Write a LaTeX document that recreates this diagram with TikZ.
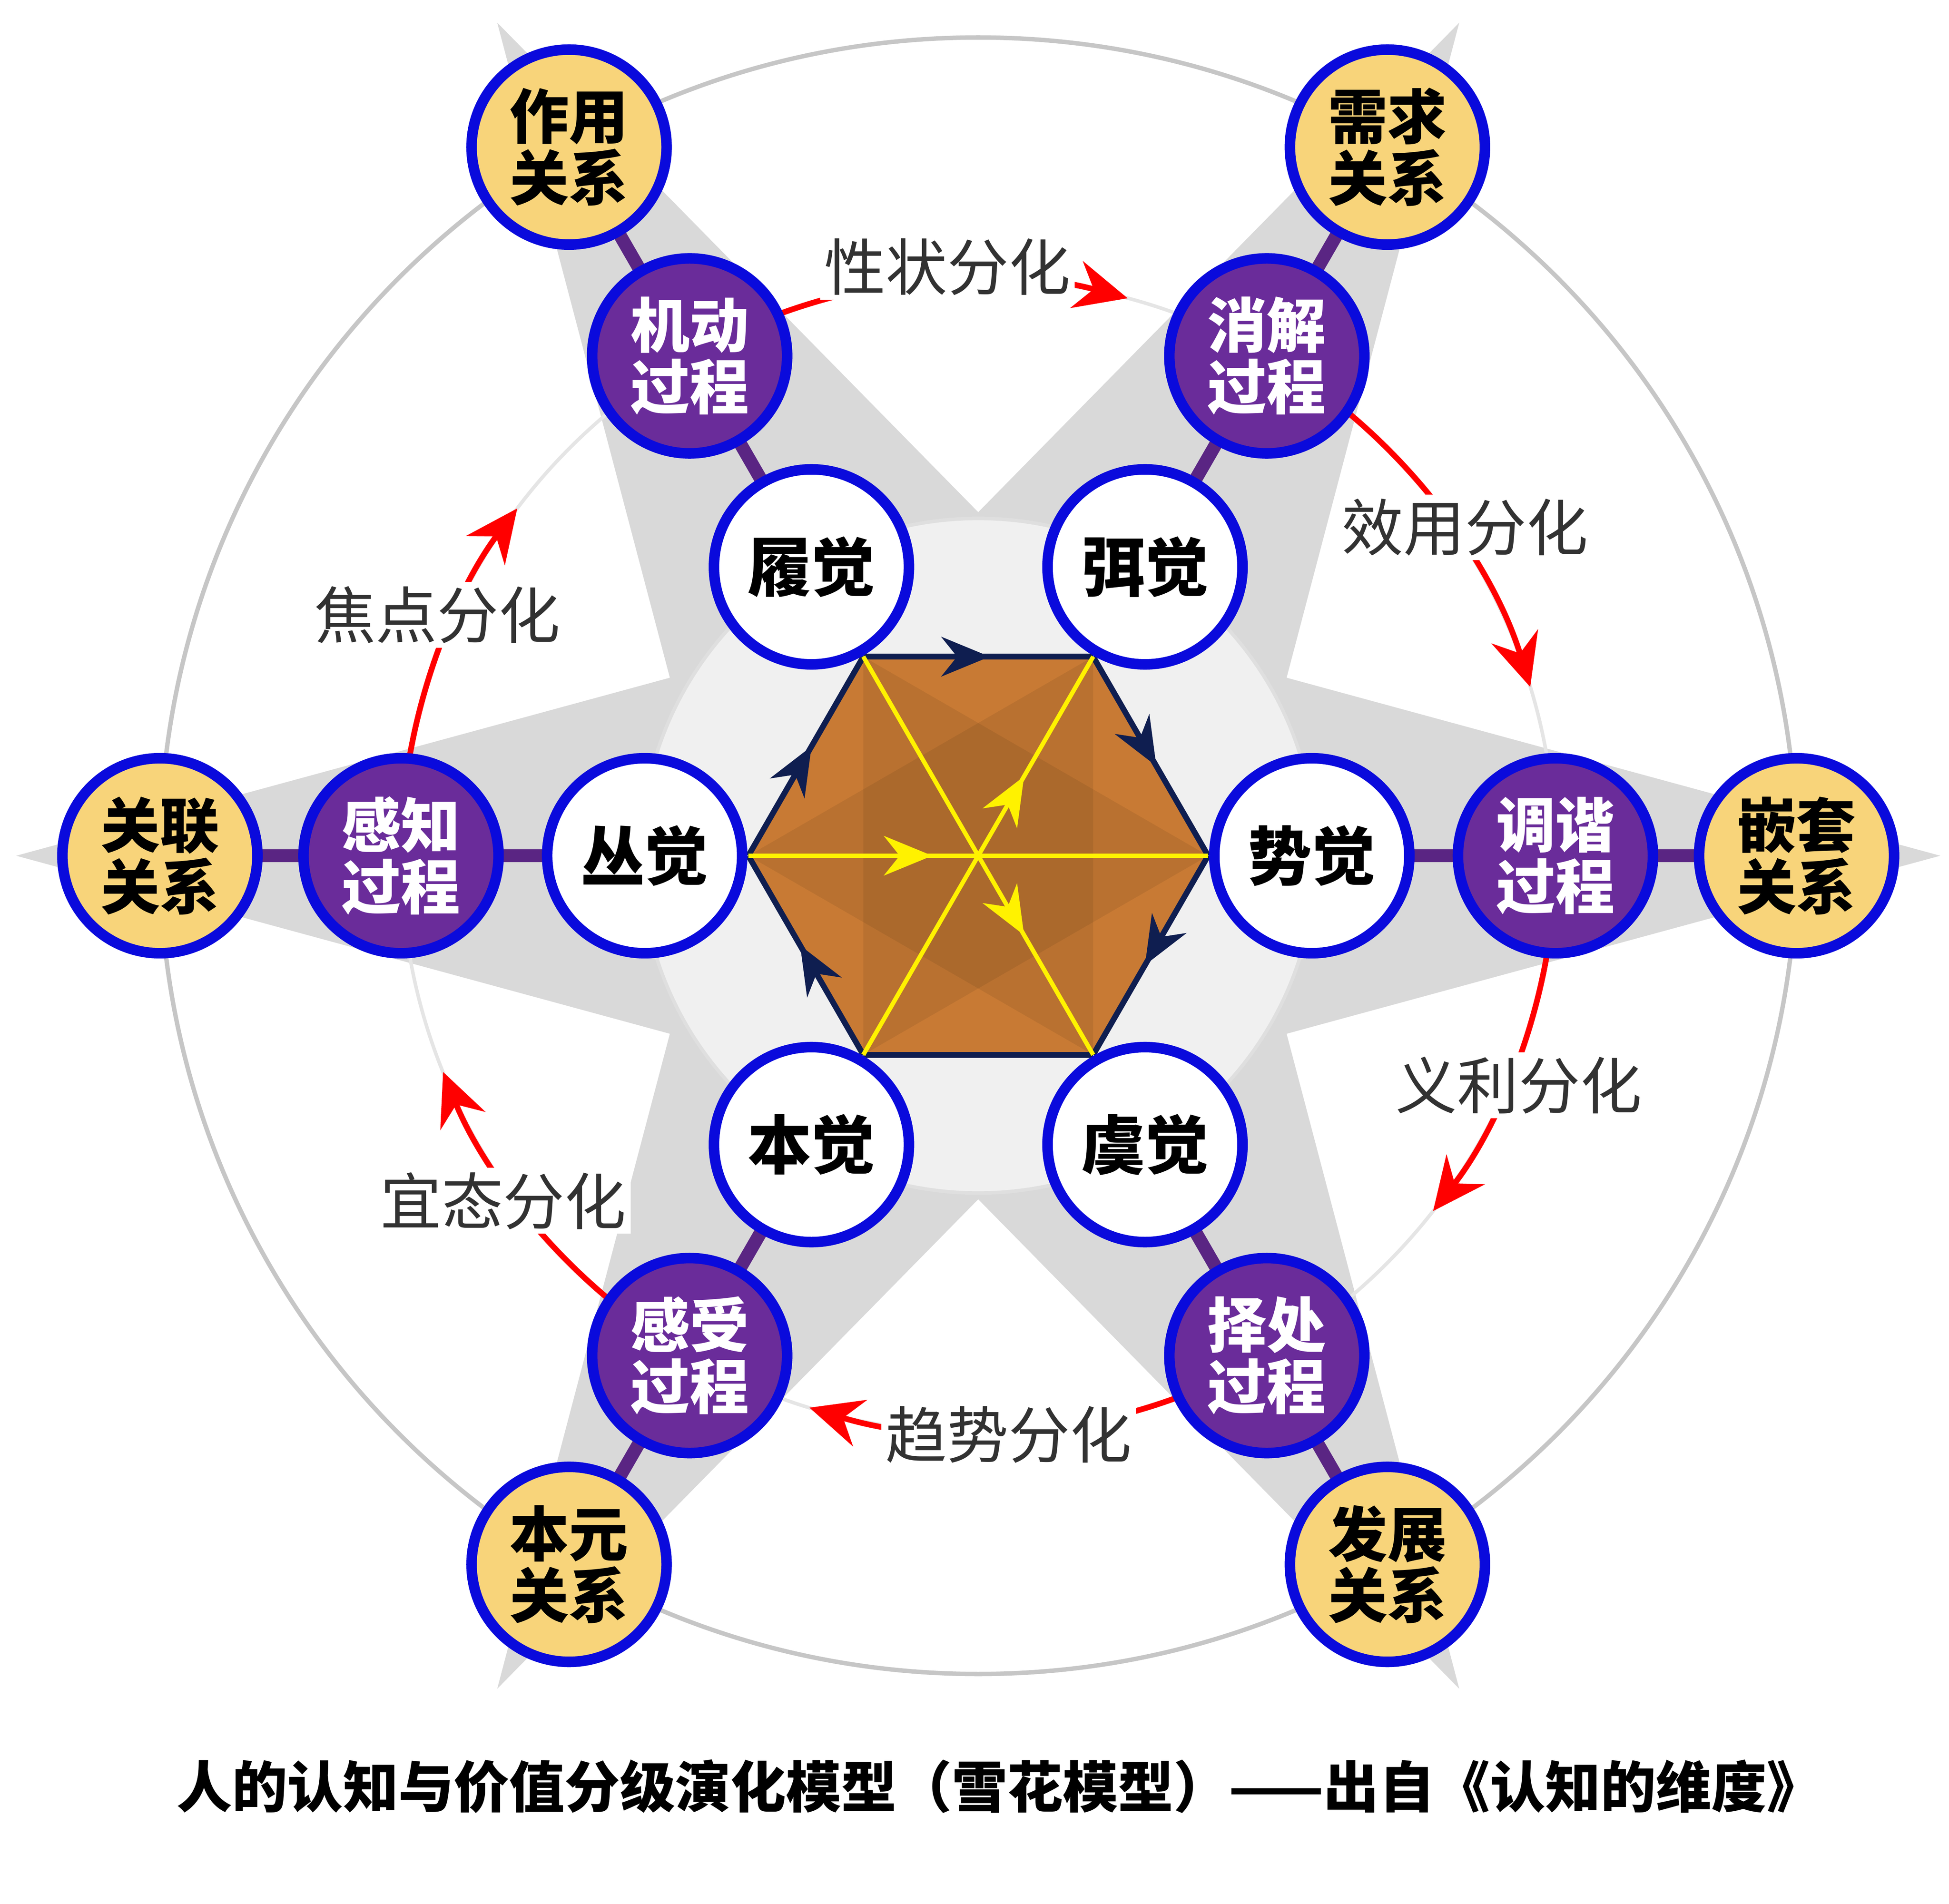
\documentclass[tikz,border=0pt]{standalone}
\usepackage{fontspec}
\newfontfamily\cjk{Noto Sans CJK SC}
\usetikzlibrary{arrows.meta,decorations.markings}
\definecolor{pp}{RGB}{106,44,154}
\definecolor{bl}{RGB}{10,10,220}
\definecolor{yl}{RGB}{248,212,122}
\definecolor{br}{RGB}{200,122,52}
\definecolor{nv}{RGB}{15,30,80}
\definecolor{lab}{RGB}{50,50,50}
\tikzset{
 base/.style={circle,draw=bl,line width=2.4pt,minimum size=1.56cm,inner sep=0pt,align=center,font=\cjk\bfseries\fontsize{13.5}{14}\selectfont},
 wc/.style={base,fill=white,text=black,font=\cjk\bfseries\fontsize{14.5}{15}\selectfont},
 pc/.style={base,fill=pp,text=white},
 yc/.style={base,fill=yl,text=black},
 redarc/.style={red,line width=1.3pt,-{Stealth[length=12pt,width=11pt,inset=4pt]}},
 lbl/.style={fill=white,inner sep=1pt,text=lab,font=\cjk\fontsize{14}{15}\selectfont},
 hexedge/.style={nv,line width=1.3pt,postaction={decorate},decoration={markings,mark=at position 0.55 with {\arrow{Stealth[length=11pt,width=9pt]}}}},
 yedge/.style={yellow,line width=1pt,postaction={decorate},decoration={markings,mark=at position #1 with {\arrow{Stealth[length=11pt,width=9pt]}}}}
}
\begin{document}
\begin{tikzpicture}[x=0.01cm,y=0.01cm]
\useasboundingbox[fill=white] (-783,-839) rectangle (777,685);
\draw[gray!45,line width=1pt] (0,0) circle (655);
\fill[gray!30] (0:770) -- (30:285) -- (60:770) -- (90:275) -- (120:770) -- (150:285) -- (180:770) -- (210:285) -- (240:770) -- (270:275) -- (300:770) -- (330:285) -- cycle;
\fill[gray!12] (0,0) circle (270);
\draw[gray!25,line width=0.8pt] (0,0) circle (270);
\draw[gray!20,line width=0.8pt] (0,0) circle (462);
\foreach \a in {0,60,...,300} \draw[pp!85!black,line width=3pt] (\a:267) -- (\a:655);
% hexagon
\fill[br] (0:184) -- (60:184) -- (120:184) -- (180:184) -- (240:184) -- (300:184) -- cycle;
\fill[black,opacity=0.07] (0:184) -- (120:184) -- (240:184) -- cycle;
\fill[black,opacity=0.07] (60:184) -- (180:184) -- (300:184) -- cycle;
\coordinate (h0) at (0:184); \coordinate (h1) at (60:184); \coordinate (h2) at (120:184);
\coordinate (h3) at (180:184); \coordinate (h4) at (240:184); \coordinate (h5) at (300:184);
\draw[hexedge] (h2) -- (h1);
\draw[hexedge] (h1) -- (h0);
\draw[hexedge] (h0) -- (h5);
\draw[nv,line width=1.3pt] (h5) -- (h4);
\draw[hexedge] (h4) -- (h3);
\draw[hexedge] (h3) -- (h2);
\draw[yedge=0.4] (h3) -- (h0);
\draw[yedge=0.7] (h4) -- (h1);
\draw[yedge=0.7] (h2) -- (h5);
% white nodes
\node[wc] (lj) at (120:267) {履觉};
\node[wc] (mj) at (60:267) {弭觉};
\node[wc] (cj) at (180:267) {丛觉};
\node[wc] (sj) at (0:267) {势觉};
\node[wc] (bj) at (240:267) {本觉};
\node[wc] (yj) at (300:267) {虞觉};
% red arcs
\draw[redarc] (110:462) arc[start angle=110,end angle=75,radius=462];
\draw[redarc] (50:462) arc[start angle=50,end angle=17,radius=462];
\draw[redarc] (-10:462) arc[start angle=-10,end angle=-38,radius=462];
\draw[redarc] (-70:462) arc[start angle=-70,end angle=-107,radius=462];
\draw[redarc] (-130:462) arc[start angle=-130,end angle=-158,radius=462];
\draw[redarc] (170:462) arc[start angle=170,end angle=143,radius=462];
\node[lbl] (l1) at (93:472) {性状分化};
\node[lbl] (l2) at (34:470) {效用分化};
\node[lbl] (l3) at (-23:470) {义利分化};
\node[lbl] (l4) at (-87:464) {趋势分化};
\node[lbl] (l5) at (-144:470) {宜态分化};
\node[lbl] (l6) at (156:474) {焦点分化};
% purple nodes
\node[pc] (jd) at (120:462) {机动\\过程};
\node[pc] (xj) at (60:462) {消解\\过程};
\node[pc] (gz) at (180:462) {感知\\过程};
\node[pc] (tx) at (0:462) {调谐\\过程};
\node[pc] (gs) at (240:462) {感受\\过程};
\node[pc] (zc) at (300:462) {择处\\过程};
% yellow nodes
\node[yc] (zy) at (120:655) {作用\\关系};
\node[yc] (xq) at (60:655) {需求\\关系};
\node[yc] (gl) at (180:655) {关联\\关系};
\node[yc] (qt) at (0:655) {嵌套\\关系};
\node[yc] (by) at (240:655) {本元\\关系};
\node[yc] (fz) at (300:655) {发展\\关系};
\node[font=\cjk\bfseries\fontsize{12.6}{14}\selectfont] (title) at (17,-745) {人的认知与价值分级演化模型（雪花模型）——出自《认知的维度》};
\end{tikzpicture}
\end{document}
